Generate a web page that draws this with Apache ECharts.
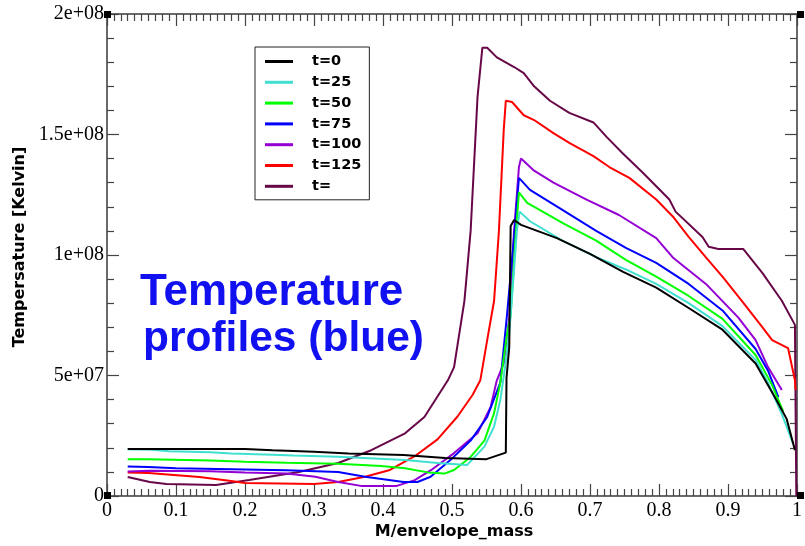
<!DOCTYPE html>
<html>
<head>
<meta charset="utf-8">
<script src="https://cdn.jsdelivr.net/npm/echarts@6/dist/echarts.min.js"></script>
<style>
html,body{margin:0;padding:0;background:#fff;}
#chart{width:805px;height:546px;}
</style>
</head>
<body>
<div id="chart"></div>
<script>
// Values: x = M/envelope_mass, y = temperature in units of 1e6 K
const seriesNames = ['t=0', 't=25', 't=50', 't=75', 't=100', 't=125', 't='];
const seriesColors = ['#000000', '#40e0d0', '#00ff00', '#0000ff', '#9400d3', '#ff0000', '#670748'];

const t0 = [[0.03,19.5],[0.2,19.5],[0.24,19.0],[0.3,18.4],[0.35,17.6],[0.43,17.0],[0.49,15.8],[0.55,15.3],[0.578,18.0],[0.579,49],[0.583,62],[0.585,112],[0.59,114.5],[0.6,112.5],[0.652,107],[0.7,100.5],[0.748,93],[0.796,86.5],[0.843,78],[0.892,69],[0.94,55],[0.968,41],[0.985,32],[0.997,19]];
const t25 = [[0.03,19.4],[0.065,19.2],[0.09,18.6],[0.15,18.2],[0.18,17.6],[0.24,17.1],[0.27,16.8],[0.335,16.3],[0.432,14.9],[0.479,13.7],[0.522,12.9],[0.547,20.5],[0.561,28.8],[0.57,39.8],[0.577,53.7],[0.583,67.6],[0.59,94],[0.594,110],[0.598,118],[0.613,114],[0.66,106],[0.71,99],[0.752,94],[0.796,88],[0.843,80],[0.892,70.5],[0.94,56.5],[0.958,47],[0.978,34],[0.994,22]];
const t50 = [[0.03,15.3],[0.06,15.2],[0.15,14.7],[0.2,14.2],[0.26,13.8],[0.335,13.4],[0.397,12.4],[0.432,11.5],[0.465,9.8],[0.489,9.3],[0.503,10.8],[0.527,16.2],[0.547,23],[0.561,34.4],[0.57,47],[0.58,67.6],[0.585,75],[0.592,107],[0.597,126],[0.609,121.6],[0.662,113],[0.709,106],[0.752,98],[0.796,91],[0.843,83],[0.892,73.5],[0.94,58.5],[0.964,46],[0.98,35]];
const t75 = [[0.03,12.2],[0.06,12.0],[0.1,11.5],[0.18,11.1],[0.26,10.7],[0.335,10.0],[0.374,8.0],[0.43,5.8],[0.45,5.8],[0.469,8],[0.498,15],[0.527,23],[0.551,32.8],[0.57,47],[0.58,76],[0.59,107.5],[0.597,132],[0.613,127],[0.66,118.7],[0.709,110],[0.752,103],[0.796,96.7],[0.843,88],[0.892,77],[0.94,61],[0.958,52],[0.973,41]];
const t100 = [[0.03,10.2],[0.062,10.5],[0.15,10.3],[0.2,9.8],[0.26,9.3],[0.302,8],[0.335,5.8],[0.368,4.2],[0.42,4.2],[0.446,6.6],[0.47,10.8],[0.503,17.8],[0.537,26],[0.556,37],[0.565,48],[0.575,55],[0.583,74],[0.59,110],[0.597,136.5],[0.6,140],[0.619,135],[0.647,130],[0.695,123],[0.742,116.6],[0.796,107],[0.82,99],[0.868,88],[0.915,74],[0.94,64.7],[0.958,53.5],[0.978,44]];
const t125 = [[0.03,9.7],[0.06,9.5],[0.134,7.9],[0.18,6.2],[0.2,5.4],[0.3,5.0],[0.335,5.8],[0.374,8],[0.41,10.8],[0.446,16.5],[0.479,23.5],[0.508,33],[0.53,42],[0.541,48],[0.551,64.7],[0.561,81],[0.568,110],[0.575,152],[0.578,164],[0.587,163.5],[0.604,158],[0.619,156],[0.647,150.6],[0.67,146.5],[0.705,141],[0.728,136.5],[0.757,132],[0.796,123],[0.82,116],[0.843,107.5],[0.868,99],[0.892,91],[0.92,81],[0.95,70],[0.964,64.7],[0.987,61.4],[0.997,48],[0.998,44]];
const tLast = [[0.03,7.9],[0.062,5.8],[0.086,5.0],[0.158,4.6],[0.206,6.6],[0.278,10],[0.335,13.7],[0.383,19],[0.432,26],[0.46,32.8],[0.494,48],[0.503,53.5],[0.518,81],[0.527,110],[0.537,165.6],[0.544,186],[0.551,186],[0.565,182],[0.59,178],[0.604,175.5],[0.619,170],[0.642,164],[0.67,159],[0.705,155],[0.724,149],[0.748,142],[0.777,134],[0.815,123],[0.824,118],[0.863,107.5],[0.872,103.4],[0.886,102.5],[0.922,102.5],[0.95,92.5],[0.978,81],[0.997,71],[0.999,0]];

const xTickLabels = ['0','0.1','0.2','0.3','0.4','0.5','0.6','0.7','0.8','0.9','1'];
const yTickLabels = ['0','5e+07','1e+08','1.5e+08','2e+08'];

const seriesData = [t0, t25, t50, t75, t100, t125, tLast];

const chart = echarts.init(document.getElementById('chart'), null, {renderer: 'canvas'});

const axisLineStyle = {color: '#6a6a6a', width: 2};
const tickStyle = {color: '#444', width: 1.2};

function cornerSquare(x, y) {
  return {type: 'rect', shape: {x: x, y: y, width: 7, height: 7}, style: {fill: '#000'}, z: 120, silent: true};
}

const option = {
  animation: false,
  backgroundColor: '#ffffff',
  grid: {left: 107, right: 3, top: 14, bottom: 50, containLabel: false},
  xAxis: [{
    type: 'value', min: 0, max: 1, interval: 0.1, position: 'bottom',
    axisLine: {show: true, onZero: false, lineStyle: axisLineStyle},
    axisTick: {show: true, inside: true, length: 12, lineStyle: tickStyle},
    minorTick: {show: true, splitNumber: 10, length: 7, lineStyle: tickStyle},
    splitLine: {show: false},
    axisLabel: {margin: 5, fontFamily: 'Liberation Serif', fontSize: 20, color: '#000',
      formatter: v => xTickLabels[Math.round(v * 10)]}
  }, {
    type: 'value', min: 0, max: 1, interval: 0.1, position: 'top',
    axisLine: {show: true, onZero: false, lineStyle: axisLineStyle},
    axisTick: {show: true, inside: true, length: 12, lineStyle: tickStyle},
    minorTick: {show: true, splitNumber: 10, length: 7, lineStyle: tickStyle},
    splitLine: {show: false},
    axisLabel: {show: false}
  }],
  yAxis: [{
    type: 'value', min: 0, max: 200, interval: 50, position: 'left',
    axisLine: {show: true, onZero: false, lineStyle: axisLineStyle},
    axisTick: {show: true, inside: true, length: 12, lineStyle: tickStyle},
    minorTick: {show: true, splitNumber: 5, length: 7, lineStyle: tickStyle},
    splitLine: {show: false},
    axisLabel: {margin: 3, fontFamily: 'Liberation Serif', fontSize: 20, color: '#000',
      formatter: v => yTickLabels[Math.round(v / 50)]}
  }, {
    type: 'value', min: 0, max: 200, interval: 50, position: 'right',
    axisLine: {show: true, onZero: false, lineStyle: axisLineStyle},
    axisTick: {show: true, inside: true, length: 12, lineStyle: tickStyle},
    minorTick: {show: true, splitNumber: 5, length: 7, lineStyle: tickStyle},
    splitLine: {show: false},
    axisLabel: {show: false}
  }],
  legend: {
    orient: 'vertical', left: 255, top: 47,
    padding: [6, 8, 5, 10],
    itemGap: 3.8, itemWidth: 28, itemHeight: 3, icon: 'rect',
    backgroundColor: '#fff', borderColor: '#222', borderWidth: 1,
    textStyle: {fontFamily: 'DejaVu Sans', fontWeight: 'bold', fontSize: 14.5, lineHeight: 17, color: '#000', padding: [0, 0, 0, 14]},
    data: seriesNames
  },
  series: seriesNames.map((name, i) => ({
    name: name, type: 'line', data: seriesData[i], showSymbol: false, symbol: 'none',
    lineStyle: {color: seriesColors[i], width: 2}, itemStyle: {color: seriesColors[i]},
    z: 2 + (seriesNames.length - i)
  })),
  graphic: [
    {type: 'text', left: 140, top: 271, z: 100, style: {text: 'Temperature', fill: '#1010f0', font: 'bold 44px "Liberation Sans"'}},
    {type: 'text', left: 143, top: 318, z: 100, style: {text: 'profiles (blue)', fill: '#1010f0', font: 'bold 42.5px "Liberation Sans"'}},
    {type: 'text', x: 20, y: 247, rotation: Math.PI / 2, z: 100, style: {text: 'Tempersature [Kelvin]', fill: '#000', font: 'bold 16px "DejaVu Sans"', align: 'center', verticalAlign: 'middle'}},
    {type: 'text', x: 454, y: 532, z: 100, style: {text: 'M/envelope_mass', fill: '#000', font: 'bold 16px "DejaVu Sans"', align: 'center', verticalAlign: 'middle'}},
    cornerSquare(104, 11), cornerSquare(797, 11), cornerSquare(104, 492), cornerSquare(797, 492)
  ]
};
chart.setOption(option);
</script>
</body>
</html>
